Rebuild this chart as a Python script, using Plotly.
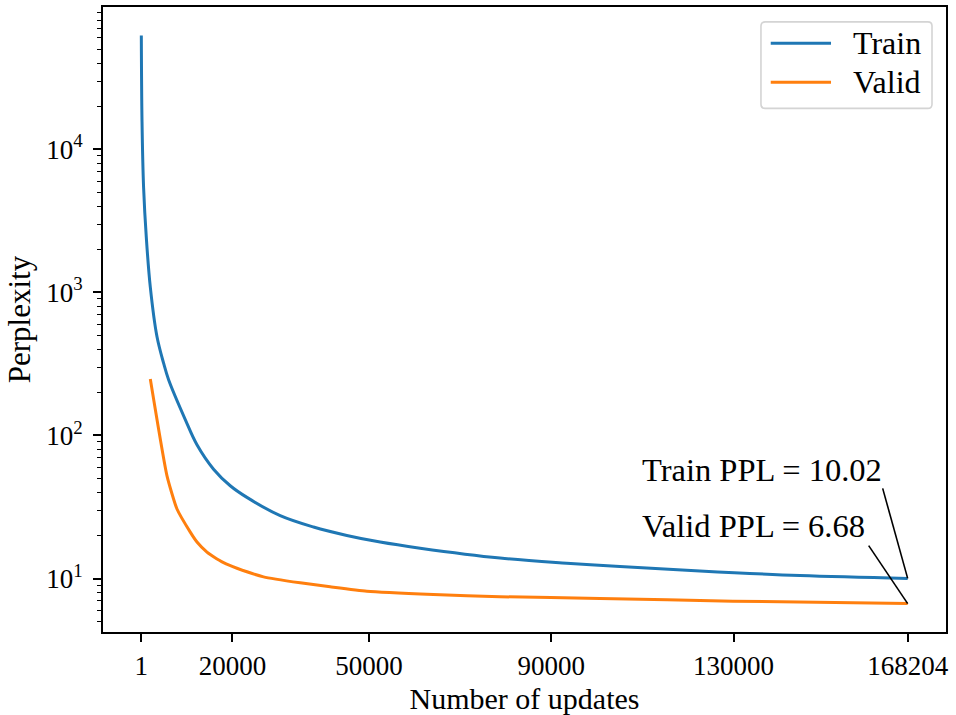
import numpy as np
import plotly.graph_objects as go

# ---- data ----
train_updates = [1, 155, 505, 1097, 1975, 3444, 4891, 5988, 9650, 12216, 15856, 19520, 23180,
                 30480, 37790, 45110, 52420, 61190, 78730, 93360, 105050, 122600,
                 144530, 168204]
train_ppl = [62500, 15600, 5385, 2420, 1088, 489, 320, 245, 129, 86, 58.1, 44.5, 36.9,
             27.5, 22.9, 20.0, 17.98, 16.3, 13.9, 12.8, 12.15, 11.3,
             10.5, 10.02]

valid_updates = [1975, 5637, 7830, 10747, 12216, 14410, 15856, 18050, 20990, 26820,
                 34870, 41450, 49500, 64100, 78730, 100660, 129830, 168204]
valid_ppl = [248, 52.2, 30.6, 21.1, 18.0, 15.3, 14.2, 12.9, 11.8, 10.27,
             9.33, 8.76, 8.16, 7.74, 7.46, 7.26, 6.95, 6.68]

x_tickvals = [1, 20000, 50000, 90000, 130000, 168204]
x_ticktext = ["1", "20000", "50000", "90000", "130000", "168204"]
y_tickvals = [10, 100, 1000, 10000]
y_ticktext = ["10<sup>1</sup>", "10<sup>2</sup>", "10<sup>3</sup>", "10<sup>4</sup>"]

FONT = "Liberation Serif"
BLUE = "#1f77b4"
ORANGE = "#ff7f0e"

fig = go.Figure()
fig.add_trace(go.Scatter(x=train_updates, y=train_ppl, mode="lines", name="Train",
                         line=dict(color=BLUE, width=3, shape="spline", smoothing=1.0),
                         showlegend=False))
fig.add_trace(go.Scatter(x=valid_updates, y=valid_ppl, mode="lines", name="Valid",
                         line=dict(color=ORANGE, width=3, shape="spline", smoothing=0.5),
                         showlegend=False))

# axis ranges with matplotlib-like 5% margins
xmin, xmax = min(train_updates), max(train_updates)
xpad = 0.05 * (xmax - xmin)
ylo = np.log10(min(valid_ppl))
yhi = np.log10(max(train_ppl))
ypad = 0.05 * (yhi - ylo)

minor_vals = [m * 10 ** e for e in range(0, 5) for m in range(2, 10)]

fig.update_xaxes(range=[xmin - xpad, xmax + xpad], tickvals=x_tickvals, ticktext=x_ticktext,
                 ticks="outside", ticklen=8, tickwidth=1.6, tickcolor="black",
                 ticklabelstandoff=1,
                 showline=True, linecolor="black", linewidth=1.6, mirror=True,
                 showgrid=False, zeroline=False,
                 tickfont=dict(family=FONT, size=27, color="black"),
                 title=dict(text="Number of updates", font=dict(family=FONT, size=30, color="black"),
                            standoff=8))
fig.update_yaxes(type="log", range=[ylo - ypad, yhi + ypad], tickvals=y_tickvals, ticktext=y_ticktext,
                 ticks="outside", ticklen=8, tickwidth=1.6, tickcolor="black",
                 ticklabelstandoff=5,
                 minor=dict(tickvals=minor_vals, ticks="outside", ticklen=4.5, tickwidth=1.2,
                            tickcolor="black", showgrid=False),
                 showline=True, linecolor="black", linewidth=1.6, mirror=True,
                 showgrid=False, zeroline=False,
                 tickfont=dict(family=FONT, size=27, color="black"),
                 title=dict(text="Perplexity", font=dict(family=FONT, size=31, color="black"),
                            standoff=6))

# annotation connectors (pixel-length lines anchored at the final data points)
fig.add_shape(type="line", xref="x", yref="y", xsizemode="pixel", ysizemode="pixel",
              xanchor=train_updates[-1], yanchor=train_ppl[-1],
              x0=0, y0=0, x1=-25, y1=90, line=dict(color="black", width=1.6))
fig.add_shape(type="line", xref="x", yref="y", xsizemode="pixel", ysizemode="pixel",
              xanchor=valid_updates[-1], yanchor=valid_ppl[-1],
              x0=0, y0=0, x1=-39, y1=58, line=dict(color="black", width=1.6))
fig.add_annotation(x=0.6370, y=0.2600, xref="paper", yref="paper", xanchor="left", yanchor="middle",
                   text=f"Train PPL = {train_ppl[-1]:.2f}", showarrow=False,
                   font=dict(family=FONT, size=32.5, color="black"))
fig.add_annotation(x=0.6370, y=0.1693, xref="paper", yref="paper", xanchor="left", yanchor="middle",
                   text=f"Valid PPL = {valid_ppl[-1]:.2f}", showarrow=False,
                   font=dict(family=FONT, size=32.5, color="black"))

# matplotlib-style legend box (rounded) drawn in paper coordinates
bx0, bx1, by_top, by_bot = 0.7805, 0.9834, 0.9762, 0.8378
rx, ry = 0.0050, 0.0067
legend_path = (f"M {bx0+rx},{by_top} L {bx1-rx},{by_top} Q {bx1},{by_top} {bx1},{by_top-ry} "
               f"L {bx1},{by_bot+ry} Q {bx1},{by_bot} {bx1-rx},{by_bot} "
               f"L {bx0+rx},{by_bot} Q {bx0},{by_bot} {bx0},{by_bot+ry} "
               f"L {bx0},{by_top-ry} Q {bx0},{by_top} {bx0+rx},{by_top} Z")
fig.add_shape(type="path", path=legend_path, xref="paper", yref="paper",
              fillcolor="rgba(255,255,255,0.8)", line=dict(color="#d4d4d4", width=1.6))
legend_items = [("Train", BLUE, 0.9420), ("Valid", ORANGE, 0.8796)]
for name, color, ly in legend_items:
    fig.add_shape(type="line", xref="paper", yref="paper", x0=0.7921, x1=0.8636, y0=ly, y1=ly,
                  line=dict(color=color, width=3))
    fig.add_annotation(x=0.8870, y=ly, xref="paper", yref="paper", xanchor="left", yanchor="middle",
                       text=name, showarrow=False, font=dict(family=FONT, size=32, color="black"))

fig.update_layout(
    width=956, height=715,
    margin=dict(l=103, r=10, t=5, b=81),
    paper_bgcolor="white", plot_bgcolor="white",
    font=dict(family=FONT, size=28, color="black"),
    showlegend=False,
)

fig.write_html("out.html", config={"displayModeBar": False},
               post_script="document.body.style.margin='0';")
